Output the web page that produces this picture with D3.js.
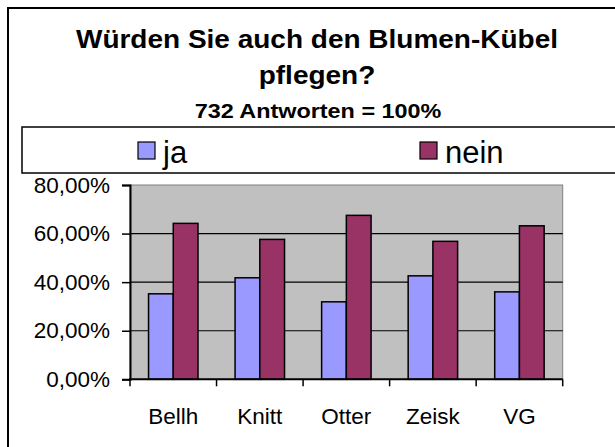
<!DOCTYPE html>
<html>
<head>
<meta charset="utf-8">
<script src="https://cdn.jsdelivr.net/npm/d3@7"></script>
<style>
  body { margin: 0; background: #fff; }
  svg text { font-family: "Liberation Sans", Arial, sans-serif; }
</style>
</head>
<body>
<div id="chart"></div>
<script>
// data
const categories = ['Bellh', 'Knitt', 'Otter', 'Zeisk', 'VG']
const seriesNames = ['ja', 'nein']
const jaValues = [0.352, 0.418, 0.319, 0.426, 0.360]
const neinValues = [0.642, 0.576, 0.675, 0.568, 0.632]
const yTicks = [0, 0.2, 0.4, 0.6, 0.8]
const titleLines = ['Würden Sie auch den Blumen-Kübel', 'pflegen?']
const subtitle = '732 Antworten = 100%'

const colors = { ja: '#9999FF', nein: '#993366' }

const width = 615
const height = 447
const plot = { left: 130, right: 562.7, top: 185, bottom: 379.3 }

const svg = d3.select('#chart').append('svg')
  .attr('width', width)
  .attr('height', height)

// outer chart border (runs past the right and bottom edge)
svg.append('rect')
  .attr('x', 8).attr('y', 8)
  .attr('width', 640).attr('height', 460)
  .attr('fill', '#fff')
  .attr('stroke', '#000')
  .attr('stroke-width', 2)

// titles, the original text is a bit wider than Arial
const titleG = svg.append('g')
  .attr('transform', 'translate(317, 0) scale(1.12, 1)')

titleG.append('text')
  .attr('x', 0).attr('y', 48.5)
  .attr('text-anchor', 'middle')
  .attr('font-size', 25).attr('font-weight', 'bold')
  .text(titleLines[0])

titleG.append('text')
  .attr('x', 0).attr('y', 84)
  .attr('text-anchor', 'middle')
  .attr('font-size', 25).attr('font-weight', 'bold')
  .text(titleLines[1])

svg.append('g')
  .attr('transform', 'translate(318, 0) scale(1.2, 1)')
  .append('text')
  .attr('x', 0).attr('y', 118.5)
  .attr('text-anchor', 'middle')
  .attr('font-size', 19.5).attr('font-weight', 'bold')
  .text(subtitle)

// legend box
svg.append('rect')
  .attr('x', 22).attr('y', 127)
  .attr('width', 620).attr('height', 46)
  .attr('fill', '#fff')
  .attr('stroke', '#000')
  .attr('stroke-width', 1.5)

const legendX = d3.scaleOrdinal().domain(seriesNames).range([138, 420])
const legend = svg.append('g')
  .selectAll('g')
  .data(seriesNames)
  .join('g')
  .attr('transform', d => `translate(${legendX(d)}, 142)`)

legend.append('rect')
  .attr('width', 17).attr('height', 17)
  .attr('fill', d => colors[d])
  .attr('stroke', '#000')
  .attr('stroke-width', 1.2)

legend.append('text')
  .attr('x', 25).attr('y', 21)
  .attr('font-size', 31)
  .text(d => d)

// scales
const x = d3.scaleBand()
  .domain(categories)
  .range([plot.left, plot.right])

// excel gap width 150%
const bw = x.bandwidth()
const gap = bw * 1.5 / 3.5 / 2
const xInner = d3.scaleBand()
  .domain(seriesNames)
  .range([gap, bw - gap])

const y = d3.scaleLinear()
  .domain([0, 0.8])
  .range([plot.bottom, plot.top])

const locale = d3.formatLocale({ decimal: ',', thousands: '.', grouping: [3], currency: ['', '€'] })
const fmt = locale.format('.2%')

// plot background
svg.append('rect')
  .attr('x', plot.left).attr('y', plot.top)
  .attr('width', plot.right - plot.left)
  .attr('height', plot.bottom - plot.top)
  .attr('fill', '#C0C0C0')
  .attr('stroke', '#808080')
  .attr('stroke-width', 1)

// gridlines
svg.append('g')
  .selectAll('line')
  .data(yTicks.slice(1, -1))
  .join('line')
  .attr('x1', plot.left).attr('x2', plot.right)
  .attr('y1', d => y(d)).attr('y2', d => y(d))
  .attr('stroke', '#000')
  .attr('stroke-width', 1.2)

// bars
const rows = categories.map((c, i) => ({ cat: c, ja: jaValues[i], nein: neinValues[i] }))

svg.append('g')
  .selectAll('g')
  .data(rows)
  .join('g')
  .attr('transform', d => `translate(${x(d.cat)}, 0)`)
  .selectAll('rect')
  .data(d => seriesNames.map(s => ({ key: s, value: d[s] })))
  .join('rect')
  .attr('x', d => xInner(d.key))
  .attr('y', d => y(d.value))
  .attr('width', xInner.bandwidth())
  .attr('height', d => y(0) - y(d.value))
  .attr('fill', d => colors[d.key])
  .attr('stroke', '#000')
  .attr('stroke-width', 1.5)

// y axis
const yAxis = svg.append('g')
  .attr('transform', `translate(${plot.left}, 0)`)
  .call(d3.axisLeft(y).tickValues(yTicks).tickFormat(fmt).tickSize(8).tickPadding(12))

yAxis.select('.domain').attr('stroke', '#000').attr('stroke-width', 2)
yAxis.selectAll('.tick line').attr('stroke', '#000').attr('stroke-width', 1.5)
yAxis.selectAll('.tick text')
  .attr('font-size', 22.5)
  .attr('font-family', '"Liberation Sans", Arial, sans-serif')
  .attr('fill', '#000')

// x axis: ticks on category boundaries
const xAxis = svg.append('g')
  .attr('transform', `translate(0, ${plot.bottom})`)

xAxis.append('line')
  .attr('x1', plot.left - 1).attr('x2', plot.right)
  .attr('stroke', '#000')
  .attr('stroke-width', 2)

const boundaries = categories.map(c => x(c)).concat([x(categories[categories.length - 1]) + bw])
xAxis.selectAll('.xtick')
  .data(boundaries)
  .join('line')
  .attr('class', 'xtick')
  .attr('x1', d => d).attr('x2', d => d)
  .attr('y1', 0).attr('y2', 7)
  .attr('stroke', '#000')
  .attr('stroke-width', 1.5)

xAxis.selectAll('.xlabel')
  .data(categories)
  .join('text')
  .attr('class', 'xlabel')
  .attr('x', d => x(d) + bw / 2)
  .attr('y', 45)
  .attr('text-anchor', 'middle')
  .attr('font-size', 22.5)
  .text(d => d)
</script>
</body>
</html>
